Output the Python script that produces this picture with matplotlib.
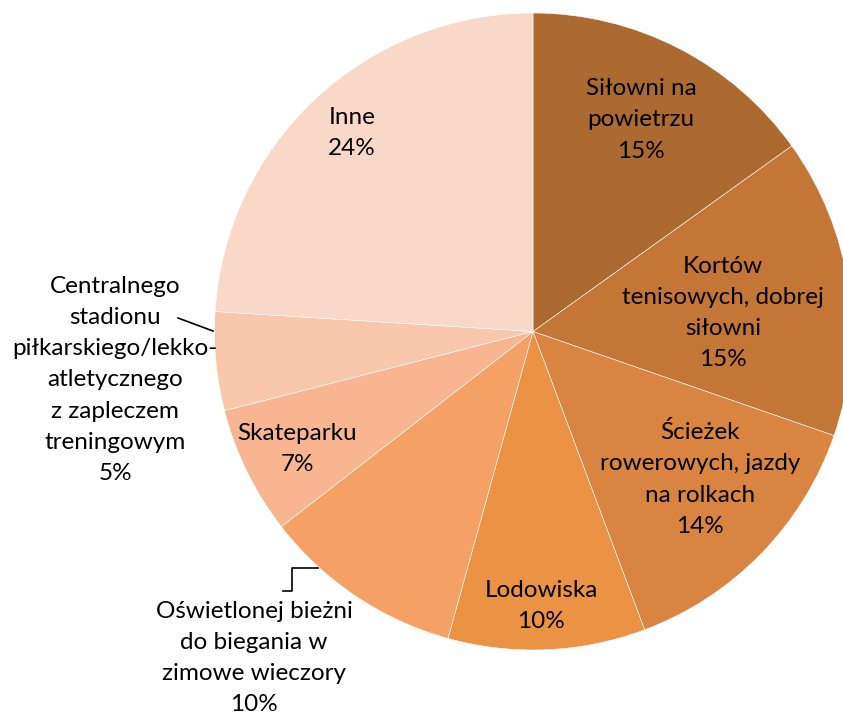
import numpy as np
import matplotlib.pyplot as plt

plt.rcParams['font.family'] = ['Lato', 'DejaVu Sans']

# data
categories = ['Siłowni na\npowietrzu', 'Kortów\ntenisowych, dobrej\nsiłowni',
              'Ścieżek\nrowerowych, jazdy\nna rolkach', 'Lodowiska',
              'Oświetlonej bieżni\ndo biegania w\nzimowe wieczory', 'Skateparku',
              'Centralnego\nstadionu\npiłkarskiego/lekko-\natletycznego\nz zapleczem\ntreningowym',
              'Inne']
values = [15.1, 15.2, 14.0, 10.0, 10.2, 6.5, 5.0, 24.0]
pct_labels = ['15%', '15%', '14%', '10%', '10%', '7%', '5%', '24%']
colors = ['#AB6A30', '#C47636', '#DA8441', '#EC9245',
          '#F5A064', '#F7B691', '#F9C7AB', '#FAD8C8']

W, H = 843, 717
fig = plt.figure(figsize=(W / 100, H / 100), dpi=100)
ax = fig.add_axes([0, 0, 1, 1])

cx, cy, r = 533, H - 331.5, 318.5
ax.pie(values, colors=colors, startangle=90, counterclock=False,
       center=(cx, cy), radius=r, frame=True,
       wedgeprops=dict(edgecolor='white', linewidth=0.4))
ax.set_xlim(0, W)
ax.set_ylim(0, H)
ax.set_aspect('equal')
ax.axis('off')

# label positions (pixels from top-left)
label_pos = [(641, 120), (723, 313), (700, 479), (541, 606),
             (254, 658), (297, 449), (115, 380), (352, 133)]
for (x, y), cat, p in zip(label_pos, categories, pct_labels):
    ax.text(x, H - y, cat + '\n' + p, ha='center', va='center',
            fontsize=17.5, color='black', linespacing=1.6)

# leader lines
ax.plot([178, 213], [H - 318, H - 331], color='black', lw=1.2)
ax.plot([283, 292, 292, 318], [H - 591, H - 591, H - 568, H - 568],
        color='black', lw=1.2)

plt.savefig('out.png', dpi=100)
plt.close()
